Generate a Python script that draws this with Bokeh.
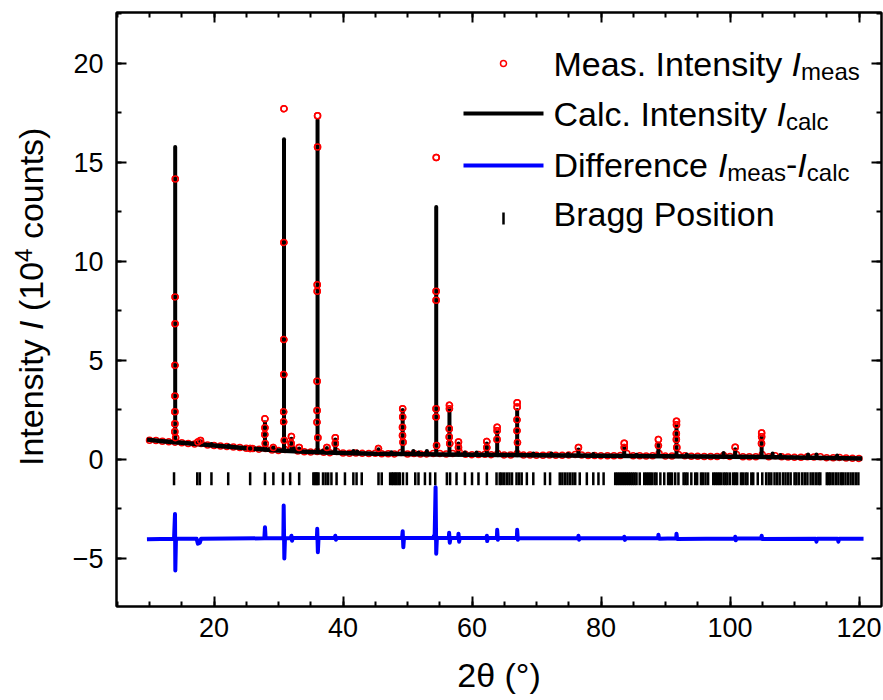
import numpy as np
from bokeh.plotting import figure
from bokeh.layouts import row
from bokeh.models import (Range1d, LinearAxis, SingleIntervalTicker, CustomJSTickFormatter,
                          Label, Arrow, BoxAnnotation, Div)
from bokeh.embed import file_html
from bokeh.resources import INLINE

# ---------------- data ----------------
# calculated background (2theta, 10^4 counts)
bg_x = [9.6, 12, 15, 20, 25, 30, 35, 40, 45, 50, 55, 60, 65, 70, 80, 90, 100, 110, 120.5]
bg_calc = [1.0, 0.92, 0.84, 0.70, 0.56, 0.45, 0.37, 0.32, 0.29, 0.27, 0.25, 0.24, 0.22,
           0.21, 0.19, 0.16, 0.14, 0.10, 0.05]

# calculated peaks: position, base level, top level
peak_x = [13.98, 17.5, 17.9, 19.6, 22.3, 25.6, 27.9, 28.8, 29.2, 30.85, 32.0, 32.4, 33.2,
          36.05, 36.9, 37.5, 38.8, 41.6, 42.2, 45.5, 47.5, 49.25, 50.9, 51.7, 53.0, 54.45,
          56.5, 57.9, 58.9, 60.7, 62.3, 63.9, 67.0, 69.5, 72.3, 74.9, 76.5, 78.8, 83.6,
          85.5, 88.9, 91.7, 93.3, 99.0, 100.8, 104.9, 106.6, 107.8, 112.1, 113.4, 116.6]
peak_base = [0.87, 0.78, 0.77, 0.72, 0.64, 0.55, 0.50, 0.48, 0.47, 0.45, 0.43, 0.42, 0.41,
             0.37, 0.36, 0.35, 0.33, 0.31, 0.31, 0.29, 0.28, 0.28, 0.27, 0.27, 0.26, 0.26,
             0.25, 0.25, 0.24, 0.24, 0.23, 0.23, 0.22, 0.21, 0.21, 0.20, 0.20, 0.19, 0.18,
             0.18, 0.17, 0.17, 0.16, 0.15, 0.15, 0.14, 0.13, 0.13, 0.11, 0.11, 0.09]
peak_top = [15.77, 0.85, 0.92, 0.78, 0.70, 0.62, 1.88, 0.55, 0.60, 16.15, 1.05, 0.55, 0.55,
            17.12, 0.45, 0.58, 1.0, 0.42, 0.40, 0.52, 0.36, 2.5, 0.42, 0.35, 0.42, 12.74,
            2.55, 0.8, 0.35, 0.35, 0.8, 1.4, 2.5, 0.3, 0.3, 0.28, 0.5, 0.28, 0.65,
            0.24, 0.75, 1.7, 0.25, 0.32, 0.52, 1.12, 0.3, 0.22, 0.25, 0.25, 0.2]

# measured intensity: background points (one per degree) ...
meas_bg_x = [float(v) for v in range(10, 121)]
meas_bg_y = [0.97, 0.95, 0.92, 0.89, 0.87, 0.84, 0.81, 0.78, 0.80, 0.73,
             0.70, 0.68, 0.65, 0.63, 0.60, 0.57, 0.55, 0.52, 0.55, 0.48,
             0.45, 0.50, 0.60, 0.42, 0.39, 0.37, 0.40, 0.36, 0.34, 0.40,
             0.32, 0.31, 0.33, 0.31, 0.30, 0.31, 0.29, 0.29, 0.28, 0.35,
             0.28, 0.30, 0.27, 0.28, 0.30, 0.30, 0.28, 0.30, 0.40, 0.26,
             0.24, 0.25, 0.26, 0.24, 0.30, 0.23, 0.23, 0.30, 0.22, 0.22,
             0.21, 0.21, 0.22, 0.21, 0.21, 0.22, 0.25, 0.22, 0.20, 0.20,
             0.19, 0.19, 0.19, 0.20, 0.30, 0.18, 0.18, 0.17, 0.18, 0.30,
             0.17, 0.17, 0.25, 0.18, 0.16, 0.16, 0.15, 0.15, 0.15, 0.20,
             0.15, 0.25, 0.14, 0.14, 0.14, 0.25, 0.14, 0.18, 0.13, 0.12,
             0.11, 0.11, 0.14, 0.12, 0.13, 0.09, 0.09, 0.10, 0.07, 0.06, 0.05]
# ... and points on the peaks
meas_pk_x = [14.0, 13.97, 13.97, 13.95, 13.95, 13.93, 13.93, 13.92, 14.05,
             17.9, 17.5, 27.9, 27.9, 27.88, 27.95,
             30.85, 30.83, 30.83, 30.82, 30.8, 30.8, 30.9,
             32.0, 31.95, 33.2, 29.2, 25.6,
             36.05, 36.05, 36.0, 36.0, 35.98, 35.98, 35.97, 36.1,
             37.5, 38.8, 38.8, 45.5,
             49.25, 49.25, 49.22, 49.22, 49.3,
             54.45, 54.43, 54.43, 54.42, 54.42, 54.5,
             56.5, 56.5, 56.47, 56.47, 56.55,
             57.9, 57.9, 62.3, 62.3, 63.9, 63.9, 63.88,
             67.0, 67.0, 66.98, 66.98, 67.05,
             76.5, 83.6, 83.6, 88.9, 88.9,
             91.7, 91.7, 91.68, 91.68, 91.75,
             100.8, 104.9, 104.9, 104.88]
meas_pk_y = [14.15, 8.2, 6.85, 4.75, 3.2, 2.4, 1.8, 1.4, 1.1,
             0.95, 0.88, 2.05, 1.6, 1.26, 0.8,
             17.7, 10.95, 6.05, 4.28, 2.4, 1.9, 0.96,
             1.16, 0.8, 0.6, 0.6, 0.55,
             17.34, 15.77, 8.82, 8.48, 3.94, 2.47, 1.88, 1.1,
             0.6, 1.09, 0.8, 0.55,
             2.56, 2.14, 1.63, 1.21, 0.87,
             15.24, 8.48, 8.03, 2.56, 2.14, 0.7,
             2.73, 2.56, 1.55, 1.13, 0.8,
             0.88, 0.6, 0.9, 0.6, 1.63, 1.45, 1.0,
             2.86, 2.64, 2.0, 1.45, 0.85,
             0.6, 0.82, 0.6, 1.0, 0.7,
             1.93, 1.75, 1.3, 1.0, 0.6,
             0.62, 1.33, 1.15, 0.8]

# difference curve (offset by -4)
diff_x = [9.6, 13.8, 13.95, 14.0, 14.1, 17.3, 17.5, 17.8, 18.0, 27.8, 27.9, 28.0,
          30.75, 30.8, 30.9, 31.0, 31.9, 32.0, 32.1, 32.2, 35.95, 36.0, 36.1, 36.2,
          38.7, 38.8, 38.9, 39.0, 49.15, 49.25, 49.35, 49.45, 54.0, 54.1, 54.2,
          54.35, 54.45, 54.55, 56.4, 56.45, 56.55, 56.65, 57.85, 57.9, 58.0, 58.1,
          62.25, 62.3, 62.35, 62.45, 63.85, 63.9, 64.0, 64.1, 66.95, 67.0, 67.1, 67.2,
          76.45, 76.5, 76.6, 76.7, 83.55, 83.6, 83.7, 83.8, 88.85, 88.9, 89.0,
          91.65, 91.7, 91.8, 100.75, 100.8, 100.9, 101.0, 104.85, 104.9, 105.0,
          113.3, 113.4, 113.5, 116.7, 116.8, 116.9, 120.7]
diff_y = [-4.03, -4.0, -2.75, -5.6, -4.0, -4.0, -4.25, -4.2, -4.0, -3.98, -3.42, -3.98,
          -3.98, -2.32, -5.0, -3.98, -3.97, -3.85, -4.1, -3.97, -3.97, -3.5, -4.68, -3.97,
          -3.97, -3.85, -4.05, -3.97, -3.97, -3.62, -4.43, -3.97, -3.97, -3.85, -3.97,
          -1.4, -4.76, -3.97, -3.97, -3.7, -4.2, -3.97, -3.97, -3.75, -4.15, -3.97,
          -3.97, -3.85, -4.12, -3.97, -3.97, -3.55, -4.05, -3.97, -3.97, -3.55, -4.05, -3.97,
          -3.98, -3.85, -4.05, -3.98, -3.98, -3.9, -4.06, -3.98, -3.98, -3.8, -4.0,
          -3.98, -3.75, -4.02, -3.99, -3.9, -4.08, -3.99, -3.99, -3.85, -4.02,
          -4.0, -4.15, -4.0, -4.0, -4.15, -4.0, -4.0]

# Bragg reflection positions
bragg_x = [13.8, 17.4, 17.8, 19.6, 22.2, 25.6, 27.9, 29.2, 30.7, 31.8, 33.2, 35.4, 35.6,
           35.8, 36.0, 36.2, 36.9, 37.3, 37.7, 38.2, 39.0, 40.3, 41.6, 42.1, 42.9, 45.5,
           46.0, 47.3, 47.6, 47.8, 48.1, 48.3, 48.6, 48.8, 49.3, 49.9, 51.2, 51.7, 52.7,
           53.5, 54.3, 56.1, 56.6, 57.6, 58.9, 60.0, 61.0, 62.3, 63.8,
           64.3, 64.6, 65.0, 65.4, 65.8, 66.2, 66.9, 67.3, 67.7, 68.5, 69.5, 71.3, 72.1,
           73.6, 74.0, 74.4, 74.8, 75.2, 75.6, 76.0, 76.7, 77.8, 78.8, 79.6, 80.4,
           82.2, 82.5, 82.8, 83.1, 83.4, 83.7, 84.0, 84.3, 84.6, 84.9, 85.2, 85.5, 86.0,
           86.7, 87.0, 87.3, 87.6, 87.9, 88.3, 88.6, 89.2, 89.8, 90.4, 90.7, 91.0, 91.5,
           92.0, 92.8, 93.1, 93.4, 94.0, 94.6, 94.9, 95.5, 95.8, 96.2, 96.6,
           97.4, 97.7, 98.0, 98.3, 98.6, 99.0, 99.3, 99.6, 100.0, 100.5, 100.8, 101.1,
           101.7, 102.0, 102.4, 102.7, 103.3, 103.6,
           104.3, 105.0, 105.6, 106.0, 106.4, 106.9, 107.3, 107.7, 108.2, 108.6, 109.0,
           109.4, 110.0, 110.3, 110.7, 111.2, 111.6, 112.0, 112.5, 112.9, 113.3, 113.7,
           114.0, 115.0, 115.3, 115.6, 116.0, 116.4, 116.8, 117.2, 117.5, 117.9, 118.3,
           118.7, 119.1, 119.5, 119.9]

x_ticks_interval = 20
y_ticks_interval = 5

# ---------------- layout constants ----------------
FONT = "Liberation Sans"
LABW = 60                 # width of the narrow block that carries the y-axis title
TOTAL_H = 698
PAGE_FL, FT, FW, FH = 116, 12, 765, 594
PAGE_FB = FT + FH

p = figure(frame_width=FW, frame_height=FH, min_border_left=PAGE_FL - LABW, min_border_top=FT,
           min_border_right=2, min_border_bottom=TOTAL_H - FT - FH,
           x_range=Range1d(4.88, 4.88 + FW / 6.45), y_range=Range1d(-7.42, 22.55),
           output_backend="svg", toolbar_location=None)
p.grid.visible = False
p.outline_line_color = "black"
p.outline_line_width = 2
p.background_fill_color = "white"
p.border_fill_color = "white"


def style_axis(ax, size="27px"):
    ax.axis_line_width = 2
    ax.axis_line_color = "black"
    ax.major_tick_in = 10
    ax.major_tick_out = 0
    ax.minor_tick_in = 5
    ax.minor_tick_out = 0
    ax.major_tick_line_width = 2
    ax.minor_tick_line_width = 2
    ax.major_tick_line_color = "black"
    ax.minor_tick_line_color = "black"
    ax.major_label_text_font = FONT
    ax.major_label_text_font_size = size
    ax.major_label_text_color = "black"


p.xaxis.ticker = SingleIntervalTicker(interval=x_ticks_interval, num_minor_ticks=4)
p.yaxis.ticker = SingleIntervalTicker(interval=y_ticks_interval, num_minor_ticks=2)
for ax in p.xaxis + p.yaxis:
    style_axis(ax)
p.xaxis.major_label_standoff = 11
p.yaxis.major_label_standoff = 13
p.xaxis.axis_label = "2θ (°)"
p.xaxis.axis_label_text_font = FONT
p.xaxis.axis_label_text_font_size = "34px"
p.xaxis.axis_label_text_font_style = "normal"
p.xaxis.axis_label_text_color = "black"
p.xaxis.axis_label_standoff = 16

blank = CustomJSTickFormatter(code="return ''")
top_ax = LinearAxis(ticker=SingleIntervalTicker(interval=x_ticks_interval, num_minor_ticks=4),
                    formatter=blank)
right_ax = LinearAxis(ticker=SingleIntervalTicker(interval=y_ticks_interval, num_minor_ticks=2),
                      formatter=blank)
for ax in (top_ax, right_ax):
    style_axis(ax, "0px")
    ax.major_label_standoff = 0
p.add_layout(top_ax, "above")
p.add_layout(right_ax, "right")

# ---------------- data glyphs ----------------
p.line(diff_x, diff_y, line_color="#0000FF", line_width=4, line_join="round")
p.segment(x0=bragg_x, y0=-0.65, x1=bragg_x, y1=-1.3, line_color="black", line_width=2.5)
p.scatter(meas_bg_x + meas_pk_x, meas_bg_y + meas_pk_y, marker="circle", size=6,
          line_color="#FF0000", line_width=1.5, fill_color=None)
p.line(bg_x, bg_calc, line_color="black", line_width=4.5, line_join="round")
p.segment(x0=peak_x, y0=peak_base, x1=peak_x, y1=peak_top, line_color="black",
          line_width=4, line_cap="round")
p.scatter(meas_pk_x, meas_pk_y, marker="circle", size=6,
          line_color="#FF0000", line_width=1.5, fill_color=None)

# ---------------- rich text helpers ----------------
W = {' ': 278, '.': 278, '(': 333, ')': 333, '-': 333, '0': 556, '1': 556, '4': 556,
     'B': 667, 'C': 722, 'D': 722, 'I': 278, 'M': 833, 'P': 667,
     'a': 556, 'c': 500, 'e': 556, 'f': 278, 'g': 556, 'i': 222, 'l': 222, 'm': 833,
     'n': 556, 'o': 556, 'r': 333, 's': 500, 't': 278, 'u': 556, 'y': 500}


def tw(s, size):
    return sum(W.get(c, 556) for c in s) * size / 1000.0


def sx(page_x):
    return page_x - PAGE_FL


def sy(page_y):
    return PAGE_FB - page_y


def runs_h(runs, x0, base_y):
    x = x0
    for text, size, style, dy in runs:
        if text.strip():
            p.add_layout(Label(x=sx(x), y=sy(base_y + dy), x_units="screen", y_units="screen",
                               text=text, text_font=FONT, text_font_size=f"{size}px",
                               text_font_style=style, text_color="black",
                               text_baseline="alphabetic", text_align="left"))
        x += tw(text, size)


L, S = 34, 24  # main and sub/superscript font sizes
N, IT = "normal", "italic"

# ---------------- y axis title (rotated HTML text in a narrow block) ----------------
ytitle = Div(
    text=('<div style="position:absolute; left:14px; top:466px; transform-origin:0 0; '
          'transform:rotate(-90deg); white-space:nowrap; font-family:\'Liberation Sans\'; '
          'font-size:34px; line-height:34px; color:#000;">Intensity <i>I</i> (10'
          '<span style="font-size:24px; position:relative; top:-11px;">4</span> counts)</div>'),
    width=LABW, height=TOTAL_H, margin=0, styles={"position": "relative", "overflow": "visible"})

# ---------------- legend ----------------
TX = 553
DY = -12  # baseline correction
runs_h([("Meas.", L, N, 0), (" ", L, N, 0), ("Intensity", L, N, 0), (" ", L, N, 0),
        ("I", L, IT, 0), ("meas", S, N, 8)], TX, 75 + DY)
runs_h([("Calc.", L, N, 0), (" ", L, N, 0), ("Intensity", L, N, 0), (" ", L, N, 0),
        ("I", L, IT, 0), ("calc", S, N, 8)], TX, 125 + DY)
runs_h([("Difference", L, N, 0), (" ", L, N, 0), ("I", L, IT, 0), ("meas", S, N, 8),
        ("-", L, N, 0), ("I", L, IT, 0), ("calc", S, N, 8)], TX, 176 + DY)
runs_h([("Bragg", L, N, 0), (" ", L, N, 0), ("Position", L, N, 0)], TX, 225 + DY)

GX0, GX1, GXC = 463, 543, 503
p.add_layout(BoxAnnotation(left=sx(GXC - 3), right=sx(GXC + 3), top=sy(63 - 3), bottom=sy(63 + 3),
                           left_units="screen", right_units="screen", top_units="screen",
                           bottom_units="screen", fill_color=None, fill_alpha=0,
                           line_color="#FF0000", line_alpha=1, line_width=1.5, border_radius=3))
p.add_layout(Arrow(end=None, x_start=sx(GX0), y_start=sy(113), x_end=sx(GX1), y_end=sy(113),
                   start_units="screen", end_units="screen", line_color="black", line_width=4))
p.add_layout(Arrow(end=None, x_start=sx(GX0), y_start=sy(165), x_end=sx(GX1), y_end=sy(165),
                   start_units="screen", end_units="screen", line_color="#0000FF", line_width=4))
p.add_layout(BoxAnnotation(left=sx(GXC - 1.25), right=sx(GXC + 1.25), top=sy(212), bottom=sy(224),
                           left_units="screen", right_units="screen", top_units="screen",
                           bottom_units="screen", fill_color="black", fill_alpha=1,
                           line_color=None))

layout = row(ytitle, p, spacing=0)
open("out.html", "w").write(file_html(layout, INLINE))
